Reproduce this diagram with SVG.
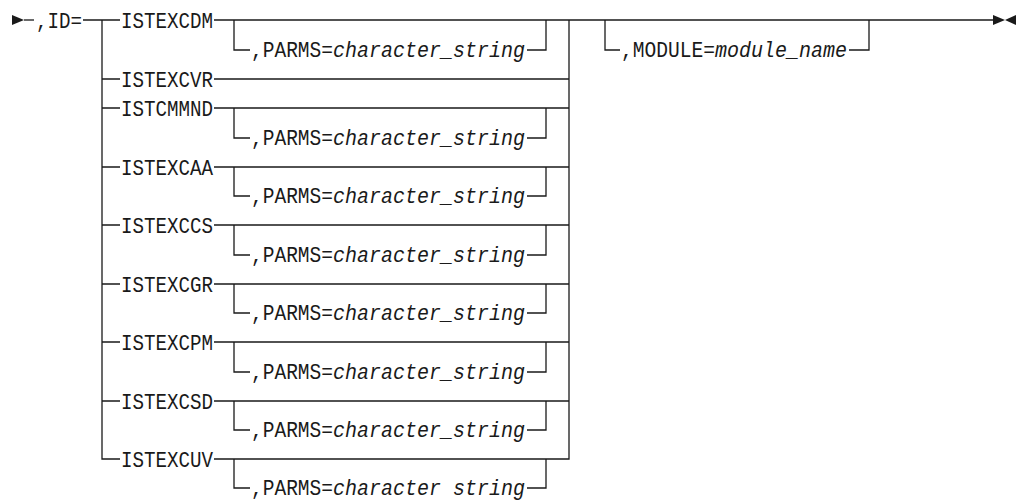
<svg xmlns="http://www.w3.org/2000/svg" width="1019" height="500" viewBox="0 0 1019 500">
<style>
.l{fill:none;stroke:#1a1a1a;stroke-width:1.3}
.t{font-family:"Liberation Mono","DejaVu Sans Mono",monospace;font-size:21.5px;fill:#1a1a1a}
.i{font-style:italic}
.a{fill:#1a1a1a}
</style>
<rect width="1019" height="500" fill="#fff"/>
<g id="connectors">
<polygon class="a" points="12,15 24,20 12,25"/>
<path class="l" d="M24,20H34"/>
<path class="l" d="M83,20H120M214,20H993"/>
<path class="l" d="M102,20V459H120M102,79H120M102,108H120M102,167H120M102,225H120M102,284H120M102,342H120M102,401H120"/>
<path class="l" d="M569,20V459H214M214,79H569M214,108H569M214,167H569M214,225H569M214,284H569M214,342H569M214,401H569"/>
<path class="l" d="M234,20V50H250M527,50H546V20"/>
<path class="l" d="M234,108V138H250M527,138H546V108"/>
<path class="l" d="M234,167V196H250M527,196H546V167"/>
<path class="l" d="M234,225V255H250M527,255H546V225"/>
<path class="l" d="M234,284V313H250M527,313H546V284"/>
<path class="l" d="M234,342V372H250M527,372H546V342"/>
<path class="l" d="M234,401V430H250M527,430H546V401"/>
<path class="l" d="M234,459V488H250M527,488H546V459"/>
<path class="l" d="M605,20V50H620M849,50H869V20"/>
<polygon class="a" points="993,15 1005,20 993,25"/>
<polygon class="a" points="1016,15 1005,20 1016,25"/>
</g>
<g id="start"><text class="t" x="36" y="28" textLength="46" lengthAdjust="spacingAndGlyphs">,ID=</text></g>
<g id="ISTEXCDM"><text class="t" x="121" y="28" textLength="92" lengthAdjust="spacingAndGlyphs">ISTEXCDM</text></g>
<g id="p1"><text class="t" x="251" y="57" textLength="82" lengthAdjust="spacingAndGlyphs">,PARMS=</text><text class="t i" x="333" y="57" textLength="192" lengthAdjust="spacingAndGlyphs">character_string</text></g>
<g id="ISTEXCVR"><text class="t" x="121" y="87" textLength="92" lengthAdjust="spacingAndGlyphs">ISTEXCVR</text></g>
<g id="ISTCMMND"><text class="t" x="121" y="116" textLength="92" lengthAdjust="spacingAndGlyphs">ISTCMMND</text></g>
<g id="p2"><text class="t" x="251" y="145" textLength="82" lengthAdjust="spacingAndGlyphs">,PARMS=</text><text class="t i" x="333" y="145" textLength="192" lengthAdjust="spacingAndGlyphs">character_string</text></g>
<g id="ISTEXCAA"><text class="t" x="121" y="175" textLength="92" lengthAdjust="spacingAndGlyphs">ISTEXCAA</text></g>
<g id="p3"><text class="t" x="251" y="203" textLength="82" lengthAdjust="spacingAndGlyphs">,PARMS=</text><text class="t i" x="333" y="203" textLength="192" lengthAdjust="spacingAndGlyphs">character_string</text></g>
<g id="ISTEXCCS"><text class="t" x="121" y="233" textLength="92" lengthAdjust="spacingAndGlyphs">ISTEXCCS</text></g>
<g id="p4"><text class="t" x="251" y="262" textLength="82" lengthAdjust="spacingAndGlyphs">,PARMS=</text><text class="t i" x="333" y="262" textLength="192" lengthAdjust="spacingAndGlyphs">character_string</text></g>
<g id="ISTEXCGR"><text class="t" x="121" y="292" textLength="92" lengthAdjust="spacingAndGlyphs">ISTEXCGR</text></g>
<g id="p5"><text class="t" x="251" y="320" textLength="82" lengthAdjust="spacingAndGlyphs">,PARMS=</text><text class="t i" x="333" y="320" textLength="192" lengthAdjust="spacingAndGlyphs">character_string</text></g>
<g id="ISTEXCPM"><text class="t" x="121" y="350" textLength="92" lengthAdjust="spacingAndGlyphs">ISTEXCPM</text></g>
<g id="p6"><text class="t" x="251" y="379" textLength="82" lengthAdjust="spacingAndGlyphs">,PARMS=</text><text class="t i" x="333" y="379" textLength="192" lengthAdjust="spacingAndGlyphs">character_string</text></g>
<g id="ISTEXCSD"><text class="t" x="121" y="409" textLength="92" lengthAdjust="spacingAndGlyphs">ISTEXCSD</text></g>
<g id="p7"><text class="t" x="251" y="437" textLength="82" lengthAdjust="spacingAndGlyphs">,PARMS=</text><text class="t i" x="333" y="437" textLength="192" lengthAdjust="spacingAndGlyphs">character_string</text></g>
<g id="ISTEXCUV"><text class="t" x="121" y="467" textLength="92" lengthAdjust="spacingAndGlyphs">ISTEXCUV</text></g>
<g id="p8"><text class="t" x="251" y="495" textLength="82" lengthAdjust="spacingAndGlyphs">,PARMS=</text><text class="t i" x="333" y="495" textLength="192" lengthAdjust="spacingAndGlyphs">character string</text></g>
<g id="module"><text class="t" x="621" y="57" textLength="94" lengthAdjust="spacingAndGlyphs">,MODULE=</text><text class="t i" x="715" y="57" textLength="132" lengthAdjust="spacingAndGlyphs">module_name</text></g>
</svg>
